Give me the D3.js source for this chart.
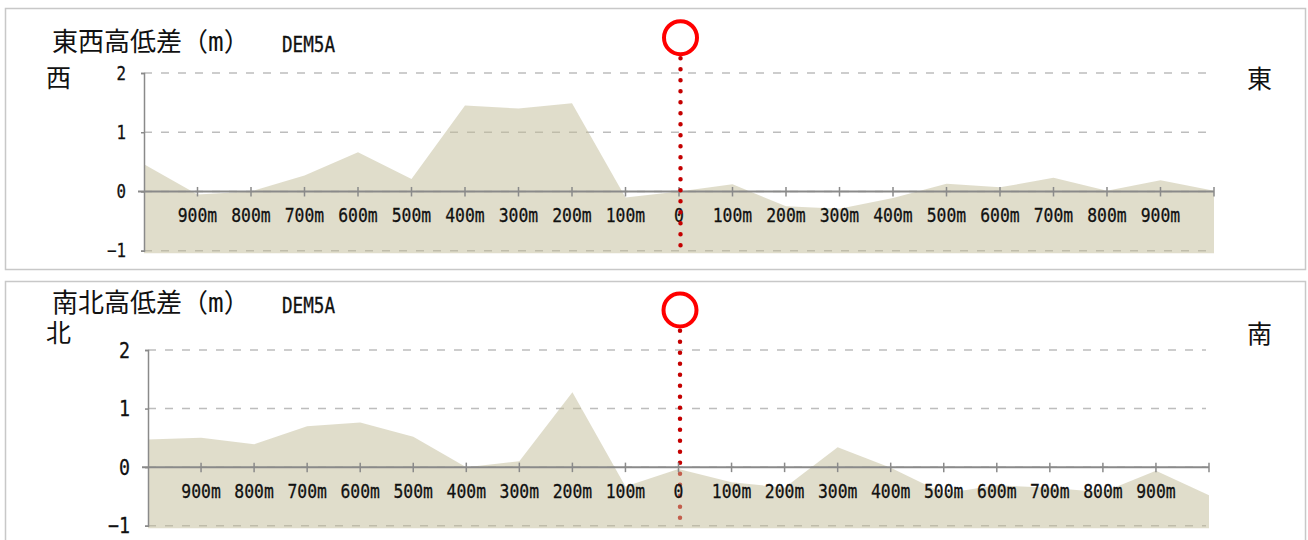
<!DOCTYPE html>
<html>
<head>
<meta charset="utf-8">
<script src="https://cdn.jsdelivr.net/npm/d3@7"></script>
<style>
    body { margin: 0; background: #fff; }
    svg { display: block; }
    text { font-family: "DejaVu Sans Mono", "Noto Sans CJK JP", monospace; fill: #111; }
    .mono { stroke: #111; stroke-width: 0.3px; }
</style>
</head>
<body>
<svg id="chart" width="1308" height="540"></svg>
<script>
// distance from the point (m), west/north negative
const distances = [-1000, -900, -800, -700, -600, -500, -400, -300, -200, -100, 0,
    100, 200, 300, 400, 500, 600, 700, 800, 900, 1000];
const tickLabels = ['', '900m', '800m', '700m', '600m', '500m', '400m', '300m', '200m', '100m', '0',
    '100m', '200m', '300m', '400m', '500m', '600m', '700m', '800m', '900m', ''];
const yTicks = [-1, 0, 1, 2];

// elevation difference (m)
const ewValues = [0.46, -0.05, 0.0, 0.27, 0.66, 0.21, 1.45, 1.40, 1.49, -0.10, 0.0,
    0.12, -0.25, -0.29, -0.11, 0.13, 0.07, 0.23, 0.01, 0.19, 0.01];
const nsValues = [0.47, 0.50, 0.39, 0.70, 0.76, 0.52, 0.0, 0.10, 1.28, -0.33, -0.03,
    -0.26, -0.35, 0.34, -0.01, -0.45, -0.31, -0.35, -0.43, -0.06, -0.48];

const panels = [
    { title: '東西高低差（m）', left: '西', right: '東', values: ewValues, top: 8,
      x0: 144, x1: 1214, yTop: 73, yBottom: 250.7, yFont: 19, lineOnTop: true,
      titleY: 51, sideY: 87, circleY: 37.7, dotTop: 58.3, dotBottom: 247.7 },
    { title: '南北高低差（m）', left: '北', right: '南', values: nsValues, top: 281,
      x0: 148, x1: 1209, yTop: 350, yBottom: 525.7, yFont: 22, lineOnTop: false,
      titleY: 312, sideY: 342, circleY: 310, dotTop: 330.7, dotBottom: 519.3 }
];

const svg = d3.select('#chart');

panels.forEach(p => drawPanel(p));

// narrow the mono font a little, the original face is condensed
function squeeze(sel, k) {
    sel.each(function () {
        const len = this.getComputedTextLength();
        if (len > 0) {
            d3.select(this)
                .attr('textLength', len * k)
                .attr('lengthAdjust', 'spacingAndGlyphs');
        }
    });
}

function drawPanel(p) {
    const g = svg.append('g');

    // panel frame
    g.append('rect')
        .attr('x', 5.5).attr('y', p.top + 0.5)
        .attr('width', 1300).attr('height', 261)
        .attr('fill', '#fff')
        .attr('stroke', '#c8c8c8')
        .attr('stroke-width', 1.5);

    const x = d3.scaleLinear().domain([-1000, 1000]).range([p.x0, p.x1]);
    const y = d3.scaleLinear().domain([-1, 2]).range([p.yBottom, p.yTop]);
    const zeroX = x(0) + 1.5;

    // dashed grid
    g.selectAll('.grid')
        .data(yTicks)
        .enter()
        .append('line')
        .attr('x1', p.x0).attr('x2', p.x1 - 3)
        .attr('y1', d => y(d)).attr('y2', d => y(d))
        .attr('stroke', '#bdbdbd')
        .attr('stroke-width', 1.5)
        .attr('stroke-dasharray', '8,9');

    const drawDots = () => {
        g.append('line')
            .attr('x1', zeroX).attr('x2', zeroX)
            .attr('y1', p.dotTop).attr('y2', p.dotBottom)
            .attr('stroke', '#c40000')
            .attr('stroke-width', 4.5)
            .attr('stroke-linecap', 'round')
            .attr('stroke-dasharray', '0,11');
    };

    if (!p.lineOnTop) drawDots();

    // elevation profile
    const area = d3.area()
        .x((d, i) => x(distances[i]))
        .y0(y(-1) + 2.5)
        .y1(d => y(d));

    g.append('path')
        .datum(p.values)
        .attr('d', area)
        .attr('fill', '#c1bb97')
        .attr('fill-opacity', 0.5);

    // y axis
    const yAxis = d3.axisLeft(y).tickValues(yTicks).tickSize(3).tickFormat(d3.format('d'));
    const ya = g.append('g')
        .attr('transform', `translate(${p.x0},0)`)
        .call(yAxis);
    ya.select('.domain').attr('stroke', '#8a8a8a').attr('stroke-width', 1.5);
    ya.selectAll('.tick line').attr('stroke', '#8a8a8a').attr('stroke-width', 1.5);
    ya.selectAll('.tick text')
        .attr('x', -18)
        .attr('class', 'mono')
        .style('font-size', p.yFont + 'px')
        .style('fill', '#111')
        .call(squeeze, 0.83);

    // x axis along zero
    g.append('line')
        .attr('x1', p.x0 - 6).attr('x2', p.x1)
        .attr('y1', y(0)).attr('y2', y(0))
        .attr('stroke', '#8a8a8a')
        .attr('stroke-width', 2);

    g.selectAll('.xtick')
        .data(distances.slice(1))
        .enter()
        .append('line')
        .attr('x1', d => x(d)).attr('x2', d => x(d))
        .attr('y1', y(0) - 4.5).attr('y2', y(0) + 5)
        .attr('stroke', '#8a8a8a')
        .attr('stroke-width', 1.5);

    g.selectAll('.xlabel')
        .data(distances)
        .enter()
        .append('text')
        .attr('class', 'mono')
        .attr('x', d => x(d))
        .attr('y', y(0) + 31)
        .attr('text-anchor', 'middle')
        .style('font-size', '20px')
        .text((d, i) => tickLabels[i])
        .call(squeeze, 0.82);

    if (p.lineOnTop) drawDots();

    // marker ring
    g.append('circle')
        .attr('cx', zeroX).attr('cy', p.circleY)
        .attr('r', 16.5)
        .attr('fill', 'none')
        .attr('stroke', '#ff0000')
        .attr('stroke-width', 4);

    // titles
    g.append('text')
        .attr('x', 52).attr('y', p.titleY)
        .style('font-size', '26px')
        .text(p.title);
    g.append('text')
        .attr('class', 'mono')
        .attr('x', 282).attr('y', p.titleY + 1)
        .style('font-size', '21px')
        .text('DEM5A')
        .call(squeeze, 0.84);
    g.append('text')
        .attr('x', 46).attr('y', p.sideY)
        .style('font-size', '25px')
        .text(p.left);
    g.append('text')
        .attr('x', 1247).attr('y', p.sideY + 1)
        .style('font-size', '25px')
        .text(p.right);
}
</script>
</body>
</html>
